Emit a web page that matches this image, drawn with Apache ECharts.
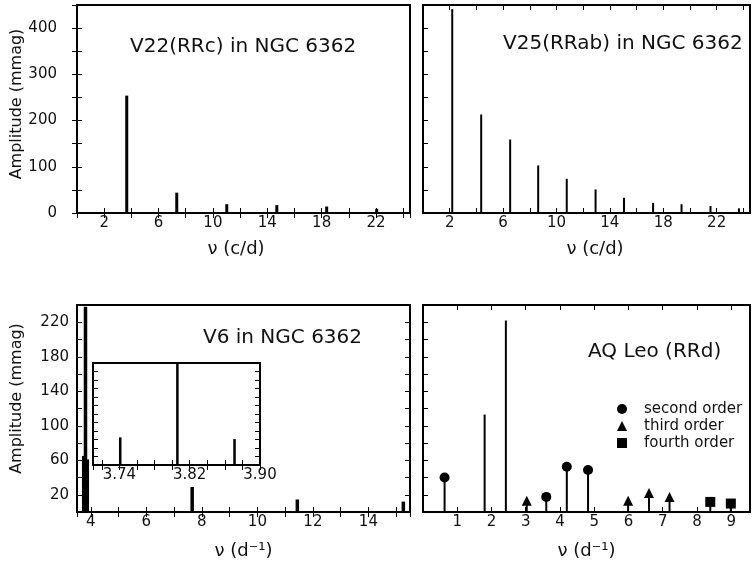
<!DOCTYPE html>
<html><head><meta charset="utf-8">
<script src="https://cdn.jsdelivr.net/npm/echarts@6/dist/echarts.min.js"></script>
<style>html,body{margin:0;padding:0;background:#fff}#c{width:753px;height:563px}</style>
</head><body><div id="c"></div><script>
// ---- data ----
const v22Freq = [3.66, 7.34, 11.02, 14.70, 18.37, 22.05];
const v22Amp  = [254, 44, 19, 17, 14, 9];
const v25Freq = [2.19, 4.36, 6.53, 8.63, 10.77, 12.93, 15.06, 17.24, 19.37, 21.54, 23.67];
const v25Amp  = [441, 213, 159, 103, 74, 51, 33, 22, 19, 15, 10];
const v6Freq  = [3.741, 3.871, 3.806, 7.65, 11.44, 15.26];
const v6Amp   = [65, 61, 238, 29, 14.5, 12];
const aqMainFreq = [1.80, 2.42];
const aqMainAmp  = [113, 222];
const aqSecondFreq = [0.63, 3.60, 4.20, 4.82];
const aqSecondAmp  = [40, 17.5, 52.5, 48.6];
const aqThirdFreq  = [3.03, 5.99, 6.60, 7.20];
const aqThirdAmp   = [13, 13, 22, 17.5];
const aqFourthFreq = [8.39, 8.99];
const aqFourthAmp  = [11.7, 9.8];
// tick labels
const topFreqLabels   = [2, 6, 10, 14, 18, 22];
const v6FreqLabels    = [4, 6, 8, 10, 12, 14];
const aqFreqLabels    = [1, 2, 3, 4, 5, 6, 7, 8, 9];
const insetFreqLabels = [3.74, 3.82, 3.90];
const topAmpLabels    = [0, 100, 200, 300, 400];
const bottomAmpLabels = [20, 60, 100, 140, 180, 220];
const titles = ['V22(RRc) in NGC 6362', 'V25(RRab) in NGC 6362', 'V6 in NGC 6362', 'AQ Leo (RRd)'];
const legendNames = ['second order', 'third order', 'fourth order'];

const FONT = 'DejaVu Sans';
const INK = '#111';
const pairs = (xs, ys) => xs.map((x, i) => [x, ys[i]]);
const inList = (v, list) => list.some(t => Math.abs(v - t) < 1e-6);
const fmt = (list, digits) => v => inList(v, list) ? (digits ? v.toFixed(digits) : String(v)) : '';
const tick = {show: true, inside: true, length: 5, lineStyle: {color: '#000', width: 1}};

function xAx(grid, pos, range, labels, extra) {
  return Object.assign({
    type: 'value', gridIndex: grid, position: pos, min: range[0], max: range[1],
    axisLine: {show: false}, splitLine: {show: false}, axisTick: tick,
    axisLabel: labels ? {show: true, formatter: labels, margin: 3, fontFamily: FONT, fontSize: 15, color: INK,
                         showMinLabel: true, showMaxLabel: true} : {show: false}
  }, extra || {});
}
function yAx(grid, pos, range, labels, margin, extra) {
  return Object.assign({
    type: 'value', gridIndex: grid, position: pos, min: range[0], max: range[1],
    axisLine: {show: false}, splitLine: {show: false}, axisTick: tick,
    axisLabel: labels ? {show: true, formatter: labels, margin: margin, fontFamily: FONT, fontSize: 15, color: INK} : {show: false}
  }, extra || {});
}
const nuName = (txt, gap, pad) => ({name: txt, nameLocation: 'middle', nameGap: gap,
  nameTextStyle: {fontFamily: FONT, fontSize: 18, color: INK, padding: pad || 0}});
const ampName = (gap, pad) => ({name: 'Amplitude (mmag)', nameLocation: 'middle', nameGap: gap, nameRotate: 90,
  nameTextStyle: {fontFamily: FONT, fontSize: 16, color: INK, padding: pad}});

const gridBase = {show: true, borderColor: '#000', borderWidth: 2, backgroundColor: '#fff', containLabel: false};
const topRange = [0, 24.5];
const black = {color: '#000', opacity: 1};

const option = {
  animation: false,
  backgroundColor: '#fff',
  grid: [
    Object.assign({left: 77, top: 5, width: 333, height: 208}, gridBase),
    Object.assign({left: 423, top: 5, width: 333, height: 208}, gridBase),
    Object.assign({left: 77, top: 305, width: 333, height: 207}, gridBase),
    Object.assign({left: 423, top: 305, width: 333, height: 207}, gridBase),
    Object.assign({left: 93, top: 363, width: 167, height: 102}, gridBase)
  ],
  title: [
    {text: titles[0], left: 130, top: 37},
    {text: titles[1], left: 503, top: 34},
    {text: titles[2], left: 203, top: 328},
    {text: titles[3], left: 588, top: 342}
  ].map(t => Object.assign(t, {padding: 0, textStyle: {fontFamily: FONT, fontSize: 20, fontWeight: 'normal', color: INK}})),
  legend: {
    data: legendNames.map((n, i) => ({name: n, icon: ['circle', 'triangle', 'rect'][i]})),
    orient: 'vertical', left: 612, top: 396, itemWidth: 10, itemHeight: 10, itemGap: 1,
    selectedMode: false,
    textStyle: {fontFamily: FONT, fontSize: 15, color: INK, lineHeight: 16, padding: [0, 0, 0, 12]},
    itemStyle: black
  },
  xAxis: [
    xAx(0, 'bottom', topRange, fmt(topFreqLabels), Object.assign({interval: 2}, nuName('ν (c/d)', 27, [0, 15, 0, 0]))),
    xAx(0, 'top', topRange, null, {interval: 2}),
    xAx(1, 'bottom', topRange, fmt(topFreqLabels), Object.assign({interval: 2}, nuName('ν (c/d)', 27, [0, 0, 0, 17]))),
    xAx(1, 'top', topRange, null, {interval: 2}),
    xAx(2, 'bottom', [3.5, 15.5], fmt(v6FreqLabels), Object.assign({splitNumber: 12, minInterval: 1, maxInterval: 1}, nuName('ν (d⁻¹)', 30))),
    xAx(2, 'top', [3.5, 15.5], null, {splitNumber: 12, minInterval: 1, maxInterval: 1}),
    xAx(3, 'bottom', [0, 9.55], fmt(aqFreqLabels), Object.assign({interval: 1}, nuName('ν (d⁻¹)', 30))),
    xAx(3, 'top', [0, 9.55], null, {interval: 1}),
    xAx(4, 'bottom', [3.71, 3.90], fmt(insetFreqLabels, 2), {splitNumber: 10, minInterval: 0.02, maxInterval: 0.02}),
    xAx(4, 'top', [3.71, 3.90], null, {splitNumber: 10, minInterval: 0.02, maxInterval: 0.02})
  ],
  yAxis: [
    yAx(0, 'left', [0, 450], fmt(topAmpLabels), 20, Object.assign({interval: 50}, ampName(52, [0, 0, 0, 10]))),
    yAx(0, 'right', [0, 450], null, 0, {interval: 50}),
    yAx(1, 'left', [0, 450], null, 0, {interval: 50}),
    yAx(2, 'left', [0, 240], fmt(bottomAmpLabels), 8, Object.assign({interval: 20}, ampName(52, [0, 0, 0, 20]))),
    yAx(2, 'right', [0, 240], null, 0, {interval: 20}),
    yAx(3, 'left', [0, 240], null, 0, {interval: 20}),
    yAx(4, 'left', [0, 240], null, 0, {interval: 20}),
    yAx(4, 'right', [0, 240], null, 0, {interval: 20})
  ],
  series: [
    {type: 'bar', xAxisIndex: 0, yAxisIndex: 0, barWidth: 3, data: pairs(v22Freq, v22Amp), itemStyle: black},
    {type: 'bar', xAxisIndex: 2, yAxisIndex: 2, barWidth: 2, data: pairs(v25Freq, v25Amp), itemStyle: black},
    {type: 'bar', xAxisIndex: 4, yAxisIndex: 3, barWidth: 3.5, data: pairs(v6Freq, v6Amp), itemStyle: black},
    {type: 'bar', xAxisIndex: 8, yAxisIndex: 6, barWidth: 2.5, data: pairs(v6Freq, v6Amp), itemStyle: black},
    {type: 'bar', xAxisIndex: 6, yAxisIndex: 5, barWidth: 2, itemStyle: black,
     data: pairs(aqMainFreq, aqMainAmp).concat(pairs(aqSecondFreq, aqSecondAmp), pairs(aqThirdFreq, aqThirdAmp), pairs(aqFourthFreq, aqFourthAmp))},
    {name: legendNames[0], type: 'scatter', xAxisIndex: 6, yAxisIndex: 5, symbol: 'circle', symbolSize: 10,
     data: pairs(aqSecondFreq, aqSecondAmp), itemStyle: black, z: 5},
    {name: legendNames[1], type: 'scatter', xAxisIndex: 6, yAxisIndex: 5, symbol: 'triangle', symbolSize: 10,
     data: pairs(aqThirdFreq, aqThirdAmp), itemStyle: black, z: 5},
    {name: legendNames[2], type: 'scatter', xAxisIndex: 6, yAxisIndex: 5, symbol: 'rect', symbolSize: 10,
     data: pairs(aqFourthFreq, aqFourthAmp), itemStyle: black, z: 5}
  ]
};
const chart = echarts.init(document.getElementById('c'), null, {renderer: 'canvas'});
chart.setOption(option);
</script></body></html>
